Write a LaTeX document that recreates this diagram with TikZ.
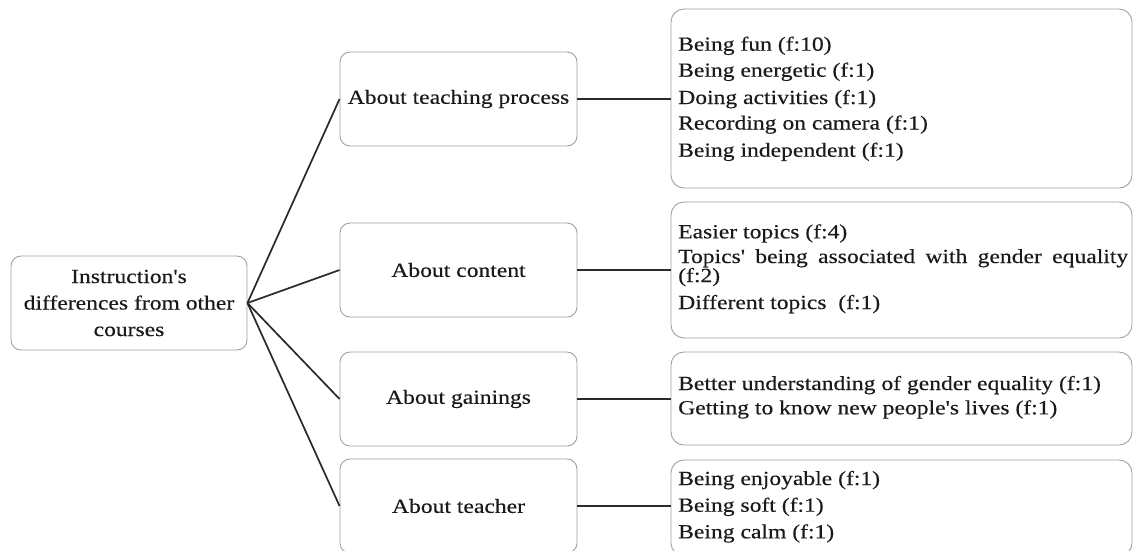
\documentclass[tikz,border=0pt]{standalone}
\usepackage{fontspec}
\newfontfamily\dfont[FakeStretch=1.18,FakeBold=0.35]{Liberation Serif}
\definecolor{boxline}{HTML}{A0A0A0}
\definecolor{linkline}{HTML}{2A2A2A}
\definecolor{ink}{HTML}{1A1A1A}
\begin{document}
\begin{tikzpicture}[x=1pt,y=-1pt,
  every node/.style={font=\dfont\fontsize{20}{26.5}\selectfont, text=ink},
  rootbox/.style={draw=boxline, line width=0.9pt, rounded corners=10pt,
    minimum width=236pt, minimum height=94pt, align=center, inner sep=0pt},
  midbox/.style={draw=boxline, line width=0.9pt, rounded corners=10pt,
    minimum width=237pt, minimum height=94pt, inner sep=0pt},
  listbox/.style={draw=boxline, line width=0.9pt, rounded corners=13pt,
    minimum width=461pt, inner sep=0pt},
  item/.style={anchor=base west, inner sep=0pt},
  link/.style={draw=linkline, line width=1.7pt}]
\clip (0,0) rectangle (1134,550);
\fill[white] (0,0) rectangle (1134,550);

% root of the tree
\node[rootbox] (root) at (129,303)
  {\fontsize{20}{19.5}\selectfont Instruction's\\differences from other\\courses};

% second level
\node[midbox] (m1) at (458.5,99)  {About teaching process};
\node[midbox] (m2) at (458.5,270) {About content};
\node[midbox] (m3) at (458.5,399) {About gainings};
\node[midbox] (m4) at (458.5,506) {About teacher};

% lists of codes
\node[listbox, minimum height=179pt] (r1) at (901.5,98.5) {};
\node[listbox, minimum height=136pt] (r2) at (901.5,270) {};
\node[listbox, minimum height=93pt]  (r3) at (901.5,398.5) {};
\node[listbox, minimum height=96pt]  (r4) at (901.5,508) {};

\node[item] (a1) at (678,50.7)  {Being fun (f:10)};
\node[item] (a2) at (678,76.7)  {Being energetic (f:1)};
\node[item] (a3) at (678,104)   {Doing activities (f:1)};
\node[item] (a4) at (678,129.5) {Recording on camera (f:1)};
\node[item] (a5) at (678,156.7) {Being independent (f:1)};

\node[item] (b1) at (678,238.3) {Easier topics (f:4)};
\node[item] (b2) at (678,263)   {\makebox[450pt][s]{Topics' being associated with gender equality}};
\node[item] (b3) at (678,282)   {(f:2)};
\node[item] (b4) at (678,309)   {Different topics\ \ (f:1)};

\node[item] (c1) at (678,390)   {Better understanding of gender equality (f:1)};
\node[item] (c2) at (678,414.3) {Getting to know new people's lives (f:1)};

\node[item] (d1) at (678,485)   {Being enjoyable (f:1)};
\node[item] (d2) at (678,511.7) {Being soft (f:1)};
\node[item] (d3) at (678,538.3) {Being calm (f:1)};

% connectors
\foreach \m in {m1,m2,m3,m4}
  \draw[link] (root.east) -- (\m.west);
\draw[link] (m1.east) -- (m1.east -| r1.west);
\draw[link] (m2.east) -- (m2.east -| r2.west);
\draw[link] (m3.east) -- (m3.east -| r3.west);
\draw[link] (m4.east) -- (m4.east -| r4.west);
\end{tikzpicture}
\end{document}
